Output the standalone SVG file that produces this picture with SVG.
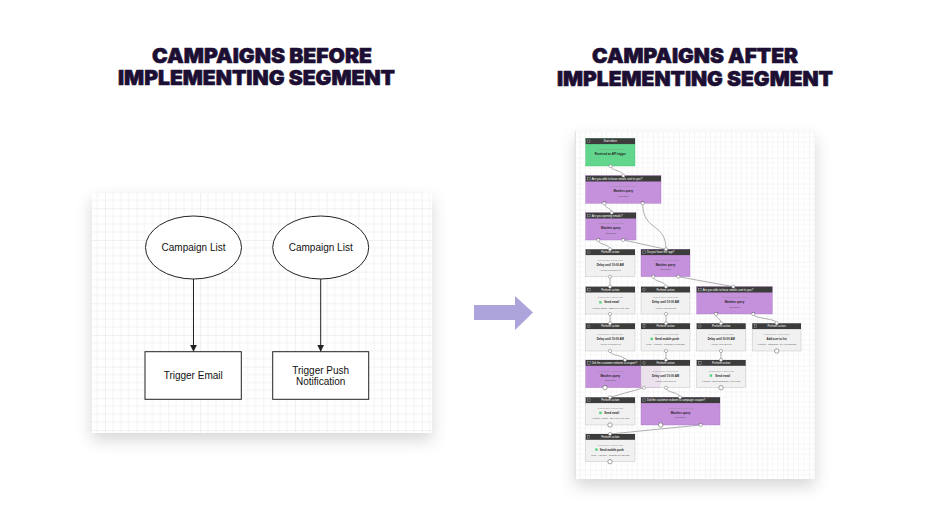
<svg xmlns="http://www.w3.org/2000/svg" width="936" height="526" viewBox="0 0 936 526">
<defs>
<style>
.title{font-family:Inter,"Liberation Sans",sans-serif;font-weight:900;font-size:20px;fill:#1d0f33;stroke:#1d0f33;stroke-width:0.6;stroke-linejoin:round}
.lbl{font-family:"Liberation Sans",Arial,sans-serif;font-size:10px;fill:#111;text-anchor:middle}
.shape{fill:#fff;stroke:#222;stroke-width:1}
.edge{fill:none;stroke:#222;stroke-width:1}
.hdr{fill:#3c3c3c}
.pur{fill:#c590dc;stroke:#a87ac0;stroke-width:0.4}
.grn{fill:#62d68d;stroke:#47b873;stroke-width:0.4}
.gry{fill:#f1f1f1;stroke:#b9b9b9;stroke-width:0.4}
.ht{font-family:"Liberation Sans",Arial,sans-serif;font-size:2.8px;fill:#fff}
.htc{font-family:"Liberation Sans",Arial,sans-serif;font-size:2.8px;fill:#fff;text-anchor:middle}
.b1{font-family:"Liberation Sans",Arial,sans-serif;font-size:2.2px;fill:#8a8a8a;text-anchor:middle}
.b2{font-family:"Liberation Sans",Arial,sans-serif;font-size:2.8px;font-weight:bold;fill:#222;text-anchor:middle}
.b3{font-family:"Liberation Sans",Arial,sans-serif;font-size:2.2px;fill:#555;text-anchor:middle}
.pl{font-family:"Liberation Sans",Arial,sans-serif;font-size:2.2px;fill:#333;text-anchor:middle}
.ico{fill:none;stroke:#bbb;stroke-width:0.4}
.port{fill:#fff;stroke:#777;stroke-width:0.5}
.end{fill:#fff;stroke:#666;stroke-width:0.6}
.wire{fill:none;stroke:#8c8c8c;stroke-width:0.7}
.dot{fill:#4fd27e}
</style>
<pattern id="gridL" patternUnits="userSpaceOnUse" x="105" y="208.3" width="31.67" height="31.67">
<path d="M7.92 0V31.67M15.83 0V31.67M23.75 0V31.67M0 7.92H31.67M0 15.83H31.67M0 23.75H31.67" stroke="#efefef" stroke-width="0.7" fill="none"/>
<path d="M0 0V31.67M0 0H31.67" stroke="#dcdcdc" stroke-width="0.8" fill="none"/>
</pattern>
<pattern id="gridR" patternUnits="userSpaceOnUse" x="575" y="131.5" width="26" height="26">
<path d="M5.2 0V26M10.4 0V26M15.6 0V26M20.8 0V26M0 5.2H26M0 10.4H26M0 15.6H26M0 20.8H26" stroke="#efefef" stroke-width="0.5" fill="none"/>
<path d="M0 0V26M0 0H26" stroke="#dedede" stroke-width="0.6" fill="none"/>
</pattern>
<filter id="sh" x="-20%" y="-20%" width="140%" height="150%">
<feDropShadow dx="0" dy="7" stdDeviation="8" flood-color="#000" flood-opacity="0.16"/>
</filter>
<marker id="ah" viewBox="0 0 10 10" refX="10" refY="5" markerWidth="7" markerHeight="7" markerUnits="userSpaceOnUse" orient="auto">
<path d="M0 0L10 5L0 10Z" fill="#222"/>
</marker>
</defs>
<rect width="936" height="526" fill="#fff"/>

<!-- Titles -->
<g id="title-before">
<text class="title" x="152" y="62.7" textLength="220" lengthAdjust="spacingAndGlyphs">CAMPAIGNS BEFORE</text>
<text class="title" x="118" y="85" textLength="277" lengthAdjust="spacingAndGlyphs">IMPLEMENTING SEGMENT</text>
</g>
<g id="title-after">
<text class="title" x="592" y="63.3" textLength="206" lengthAdjust="spacingAndGlyphs">CAMPAIGNS AFTER</text>
<text class="title" x="557" y="86" textLength="276" lengthAdjust="spacingAndGlyphs">IMPLEMENTING SEGMENT</text>
</g>

<!-- Left panel -->
<g id="panel-before">
<rect x="92" y="193" width="340" height="240" fill="#fff" filter="url(#sh)"/>
<rect x="92" y="193" width="340" height="240" fill="url(#gridL)"/>
</g>
<g id="connectors-before">
<line class="edge" x1="193.5" y1="279" x2="193.5" y2="351.7" marker-end="url(#ah)"/>
<line class="edge" x1="320.7" y1="279" x2="320.7" y2="351.7" marker-end="url(#ah)"/>
</g>
<g id="list1">
<ellipse class="shape" cx="193.5" cy="247.5" rx="48" ry="31.5"/>
<text class="lbl" x="193.5" y="251">Campaign List</text>
</g>
<g id="list2">
<ellipse class="shape" cx="320.7" cy="247.5" rx="48" ry="31.5"/>
<text class="lbl" x="320.7" y="251">Campaign List</text>
</g>
<g id="email">
<rect class="shape" x="145" y="351.7" width="96.3" height="47.6"/>
<text class="lbl" x="193.2" y="379">Trigger Email</text>
</g>
<g id="push">
<rect class="shape" x="272.7" y="351.7" width="96" height="47.6"/>
<text class="lbl" x="320.7" y="373.5">Trigger Push</text>
<text class="lbl" x="320.7" y="384.5">Notification</text>
</g>

<!-- Big arrow -->
<g id="big-arrow">
<polygon points="474,305 515,305 515,296 533,312.5 515,330 515,320 474,320" fill="#ada4dc"/>
</g>

<!-- Right panel -->
<g id="panel-after">
<rect x="575" y="131.5" width="240" height="347.5" fill="#fff" filter="url(#sh)"/>
<rect x="575" y="131.5" width="240" height="347.5" fill="url(#gridR)"/>
<line x1="575.3" y1="131.5" x2="575.3" y2="479" stroke="#d0d0d0" stroke-width="0.6"/>
</g>

<g id="connectors-after">
<path class="wire" d="M610.7 166C610.7 171 623.3 170 623.3 175.7"/>
<path class="wire" d="M604.3 203.3C604.3 208 611.7 208 611.7 212.7"/>
<path class="wire" d="M642.7 203.3C642.7 232 666 222 666 249.3"/>
<path class="wire" d="M598.3 240C598.3 245 610 244 610 249.3"/>
<path class="wire" d="M623.3 240L666 249.3"/>
<path class="wire" d="M610 276.7V286.7"/>
<path class="wire" d="M653.3 276.7C653.3 282 666 281 666 286.7"/>
<path class="wire" d="M678.3 276.7L733.3 286.7"/>
<path class="wire" d="M610 314V323.3"/>
<path class="wire" d="M666 314V323.3"/>
<path class="wire" d="M716 314C716 319 721 318 721 323.3"/>
<path class="wire" d="M753.3 314C753.3 319 776.7 318 776.7 323.3"/>
<path class="wire" d="M610 351C610 356 625 355 625 360"/>
<path class="wire" d="M666 351V360"/>
<path class="wire" d="M721 351V360"/>
<path class="wire" d="M644 387.7L610 397.3"/>
<path class="wire" d="M666 387.7C666 393 680 392 680 397.3"/>
<path class="wire" d="M700.7 425L610 434"/>
</g>

<g id="n-start" transform="translate(585.7 138.3)">
<rect class="grn" width="49.3" height="27.7"/>
<rect class="hdr" width="49.3" height="5.8"/>
<circle class="ico" cx="3" cy="2.9" r="1.5"/>
<text class="htc" x="24.6" y="4">Start when</text>
<text class="b1" x="24.6" y="11.5">2 users have reached this</text>
<text class="b2" x="24.6" y="17">Received an API trigger</text>
</g>
<g id="n-q1" transform="translate(585.7 175.7)">
<rect class="pur" width="75.3" height="27.6"/>
<rect class="hdr" width="75.3" height="5.8"/>
<rect class="ico" x="1.8" y="1.6" width="2.6" height="2.6"/>
<text class="ht" x="6" y="4">Are you able to have emails sent to you?</text>
<text class="b1" x="37.6" y="11.5">2 users have reached this</text>
<text class="b2" x="37.6" y="16.5">Matches query</text>
<text class="b3" x="37.6" y="21">Evaluating</text>
<text class="pl" x="18.6" y="26.5">Yes</text>
<text class="pl" x="57" y="26.5">No</text>
</g>
<g id="n-q2" transform="translate(585.7 212.7)">
<rect class="pur" width="50.3" height="27.3"/>
<rect class="hdr" width="50.3" height="5.8"/>
<rect class="ico" x="1.8" y="1.6" width="2.6" height="2.6"/>
<text class="ht" x="6" y="4">Are you opening emails?</text>
<text class="b1" x="25.2" y="11.5">2 users have reached this</text>
<text class="b2" x="25.2" y="16.5">Matches query</text>
<text class="b3" x="25.2" y="21">Evaluating</text>
<text class="pl" x="12.6" y="26.3">Yes</text>
<text class="pl" x="37.6" y="26.3">No</text>
</g>
<g id="n-a1" transform="translate(585.7 249.3)">
<rect class="gry" width="49.3" height="27.4"/>
<rect class="hdr" width="49.3" height="5.8"/>
<circle class="ico" cx="3" cy="2.9" r="1.4"/>
<text class="htc" x="24.6" y="4">Perform action</text>
<text class="b1" x="24.6" y="11.5">2 users have reached this</text>
<text class="b2" x="24.6" y="16.8">Delay until 10:00 AM</text>
<text class="b3" x="24.6" y="22">Add the delay/Self-off</text>
</g>
<g id="n-q3" transform="translate(641 249.3)">
<rect class="pur" width="49" height="27.4"/>
<rect class="hdr" width="49" height="5.8"/>
<rect class="ico" x="1.8" y="1.6" width="2.6" height="2.6"/>
<text class="ht" x="6" y="4">Do you have the app?</text>
<text class="b1" x="24.5" y="11.5">2 users have reached this</text>
<text class="b2" x="24.5" y="16.5">Matches query</text>
<text class="b3" x="24.5" y="21">Evaluating</text>
<text class="pl" x="12.3" y="26.3">Yes</text>
<text class="pl" x="37.3" y="26.3">No</text>
</g>
<g id="n-a2" transform="translate(585.7 286.7)">
<rect class="gry" width="49.3" height="27.3"/>
<rect class="hdr" width="49.3" height="5.8"/>
<rect class="ico" x="1.8" y="1.6" width="2.6" height="2.6"/>
<text class="htc" x="24.6" y="4">Perform action</text>
<text class="b1" x="24.6" y="11.5">2 users have reached this</text>
<rect class="dot" x="13.5" y="14.4" width="2.4" height="2.4"/>
<text class="b2" x="26" y="16.8">Send email</text>
<text class="b3" x="24.6" y="22">Activates: Email - 2BN477 CAMPAIGN</text>
</g>
<g id="n-a3" transform="translate(641 286.7)">
<rect class="gry" width="49" height="27.3"/>
<rect class="hdr" width="49" height="5.8"/>
<circle class="ico" cx="3" cy="2.9" r="1.4"/>
<text class="htc" x="24.5" y="4">Perform action</text>
<text class="b1" x="24.5" y="11.5">2 users have reached this</text>
<text class="b2" x="24.5" y="16.8">Delay until 10:00 AM</text>
<text class="b3" x="24.5" y="22">Add the delay/Self-off</text>
</g>
<g id="n-q4" transform="translate(696.7 286.7)">
<rect class="pur" width="75.6" height="27.3"/>
<rect class="hdr" width="75.6" height="5.8"/>
<rect class="ico" x="1.8" y="1.6" width="2.6" height="2.6"/>
<text class="ht" x="6" y="4">Are you able to have emails sent to you?</text>
<text class="b1" x="37.8" y="11.5">2 users have reached this</text>
<text class="b2" x="37.8" y="16.5">Matches query</text>
<text class="b3" x="37.8" y="21">Evaluating</text>
<text class="pl" x="19.3" y="26.3">Yes</text>
<text class="pl" x="56.6" y="26.3">No</text>
</g>
<g id="n-a4" transform="translate(585.7 323.3)">
<rect class="gry" width="49.3" height="27.7"/>
<rect class="hdr" width="49.3" height="5.8"/>
<circle class="ico" cx="3" cy="2.9" r="1.4"/>
<text class="htc" x="24.6" y="4">Perform action</text>
<text class="b1" x="24.6" y="11.5">2 users have reached this</text>
<text class="b2" x="24.6" y="16.8">Delay until 10:00 AM</text>
<text class="b3" x="24.6" y="22">Add the delay/Self-off</text>
</g>
<g id="n-a5" transform="translate(641 323.3)">
<rect class="gry" width="49" height="27.7"/>
<rect class="hdr" width="49" height="5.8"/>
<rect class="ico" x="2" y="1.4" width="2" height="3"/>
<text class="htc" x="24.5" y="4">Perform action</text>
<text class="b1" x="24.5" y="11.5">2 users have reached this</text>
<rect class="dot" x="9.5" y="14.4" width="2.4" height="2.4"/>
<text class="b2" x="26" y="16.8">Send mobile push</text>
<text class="b3" x="24.5" y="22">Push - Activates - Unanswered Savings</text>
</g>
<g id="n-a6" transform="translate(696.7 323.3)">
<rect class="gry" width="49" height="27.7"/>
<rect class="hdr" width="49" height="5.8"/>
<circle class="ico" cx="3" cy="2.9" r="1.4"/>
<text class="htc" x="24.5" y="4">Perform action</text>
<text class="b1" x="24.5" y="11.5">2 users have reached this</text>
<text class="b2" x="24.5" y="16.8">Delay until 10:00 AM</text>
<text class="b3" x="24.5" y="22">Add the delay/Self-off</text>
</g>
<g id="n-a7" transform="translate(752.3 323.3)">
<rect class="gry" width="48.7" height="27.7"/>
<rect class="hdr" width="48.7" height="5.8"/>
<rect class="ico" x="2" y="1.4" width="2" height="3"/>
<text class="htc" x="24.3" y="4">Perform action</text>
<text class="b1" x="24.3" y="11.5">2 users have reached this</text>
<text class="b2" x="24.3" y="16.8">Add user to list</text>
<text class="b3" x="24.3" y="22">Activates - Campaign - No Auto-Savings</text>
</g>
<g id="n-q5" transform="translate(585.7 360)">
<rect class="pur" width="75" height="27.7"/>
<rect class="hdr" width="75" height="5.8"/>
<rect class="ico" x="1.8" y="1.6" width="2.6" height="2.6"/>
<text class="ht" x="6" y="4">Did the customer redeem a coupon?</text>
<text class="b1" x="24.6" y="11.5">2 users have reached this</text>
<text class="b2" x="24.6" y="16.5">Matches query</text>
<text class="b3" x="24.6" y="21">Evaluating</text>
<text class="pl" x="19.3" y="26.3">Yes</text>
</g>
<g id="n-a8" transform="translate(641 360)">
<rect width="49" height="27.7" fill="#f1f1f1" fill-opacity="0.85" stroke="#b9b9b9" stroke-width="0.4"/>
<rect class="hdr" width="49" height="5.8"/>
<circle class="ico" cx="3" cy="2.9" r="1.4"/>
<text class="htc" x="24.5" y="4">Perform action</text>
<text class="b1" x="24.5" y="11.5">2 users have reached this</text>
<text class="b2" x="24.5" y="16.8">Delay until 10:00 AM</text>
<text class="b3" x="24.5" y="22">Add the delay/Self-off</text>
</g>
<g id="n-a9" transform="translate(696.7 360)">
<rect class="gry" width="49" height="27.7"/>
<rect class="hdr" width="49" height="5.8"/>
<rect class="ico" x="1.8" y="1.6" width="2.6" height="2.6"/>
<text class="htc" x="24.5" y="4">Perform action</text>
<text class="b1" x="24.5" y="11.5">2 users have reached this</text>
<rect class="dot" x="13" y="14.4" width="2.4" height="2.4"/>
<text class="b2" x="26" y="16.8">Send email</text>
<text class="b3" x="24.5" y="22">Activates - Email/Campaign - Tool Guide</text>
</g>
<g id="n-a10" transform="translate(585.7 397.3)">
<rect class="gry" width="49.3" height="27.7"/>
<rect class="hdr" width="49.3" height="5.8"/>
<rect class="ico" x="1.8" y="1.6" width="2.6" height="2.6"/>
<text class="htc" x="24.6" y="4">Perform action</text>
<text class="b1" x="24.6" y="11.5">2 users have reached this</text>
<rect class="dot" x="13.5" y="14.4" width="2.4" height="2.4"/>
<text class="b2" x="26" y="16.8">Send email</text>
<text class="b3" x="24.6" y="22">Activates - Email - CRAFT CAMPAIGN</text>
</g>
<g id="n-q6" transform="translate(641 397.3)">
<rect class="pur" width="79" height="27.7"/>
<rect class="hdr" width="79" height="5.8"/>
<rect class="ico" x="1.8" y="1.6" width="2.6" height="2.6"/>
<text class="ht" x="6" y="4">Did the customer redeem a campaign coupon?</text>
<text class="b1" x="39.5" y="11.5">2 users have reached this</text>
<text class="b2" x="39.5" y="16.5">Matches query</text>
<text class="b3" x="39.5" y="21">Evaluating</text>
<text class="pl" x="19.7" y="26.3">Yes</text>
<text class="pl" x="59.7" y="26.3">No</text>
</g>
<g id="n-a11" transform="translate(585.7 434)">
<rect class="gry" width="49.3" height="27.7"/>
<rect class="hdr" width="49.3" height="5.8"/>
<rect class="ico" x="2" y="1.4" width="2" height="3"/>
<text class="htc" x="24.6" y="4">Perform action</text>
<text class="b1" x="24.6" y="11.5">2 users have reached this</text>
<rect class="dot" x="9.5" y="14.4" width="2.4" height="2.4"/>
<text class="b2" x="26" y="16.8">Send mobile push</text>
<text class="b3" x="24.6" y="22">Push - Activates - Unanswered Savings</text>
</g>

<g id="ports">
<circle class="port" cx="610.7" cy="166" r="1.6"/>
<circle class="port" cx="623.3" cy="175.7" r="1.6"/>
<circle class="port" cx="604.3" cy="203.3" r="1.6"/>
<circle class="port" cx="642.7" cy="203.3" r="1.6"/>
<circle class="port" cx="611.7" cy="212.7" r="1.6"/>
<circle class="port" cx="598.3" cy="240" r="1.6"/>
<circle class="port" cx="623.3" cy="240" r="1.6"/>
<circle class="port" cx="610" cy="249.3" r="1.6"/>
<circle class="port" cx="666" cy="249.3" r="1.6"/>
<circle class="port" cx="610" cy="276.7" r="1.6"/>
<circle class="port" cx="653.3" cy="276.7" r="1.6"/>
<circle class="port" cx="678.3" cy="276.7" r="1.6"/>
<circle class="port" cx="610" cy="286.7" r="1.6"/>
<circle class="port" cx="666" cy="286.7" r="1.6"/>
<circle class="port" cx="733.3" cy="286.7" r="1.6"/>
<circle class="port" cx="610" cy="314" r="1.6"/>
<circle class="port" cx="666" cy="314" r="1.6"/>
<circle class="port" cx="716" cy="314" r="1.6"/>
<circle class="port" cx="753.3" cy="314" r="1.6"/>
<circle class="port" cx="610" cy="323.3" r="1.6"/>
<circle class="port" cx="666" cy="323.3" r="1.6"/>
<circle class="port" cx="721" cy="323.3" r="1.6"/>
<circle class="port" cx="776.7" cy="323.3" r="1.6"/>
<circle class="port" cx="610" cy="351" r="1.6"/>
<circle class="port" cx="666" cy="351" r="1.6"/>
<circle class="port" cx="721" cy="351" r="1.6"/>
<circle class="end" cx="776.7" cy="351" r="2.2"/>
<circle class="port" cx="625" cy="360" r="1.6"/>
<circle class="port" cx="666" cy="360" r="1.6"/>
<circle class="port" cx="721" cy="360" r="1.6"/>
<circle class="end" cx="605" cy="387.7" r="2.2"/>
<circle class="port" cx="644" cy="387.7" r="1.6"/>
<circle class="port" cx="666" cy="387.7" r="1.6"/>
<circle class="end" cx="721" cy="387.7" r="2.2"/>
<circle class="port" cx="610" cy="397.3" r="1.6"/>
<circle class="port" cx="680" cy="397.3" r="1.6"/>
<circle class="end" cx="610" cy="425" r="2.2"/>
<circle class="end" cx="660.7" cy="425" r="2.2"/>
<circle class="port" cx="700.7" cy="425" r="1.6"/>
<circle class="port" cx="610" cy="434" r="1.6"/>
<circle class="end" cx="610" cy="461.7" r="2.2"/>
</g>
</svg>
